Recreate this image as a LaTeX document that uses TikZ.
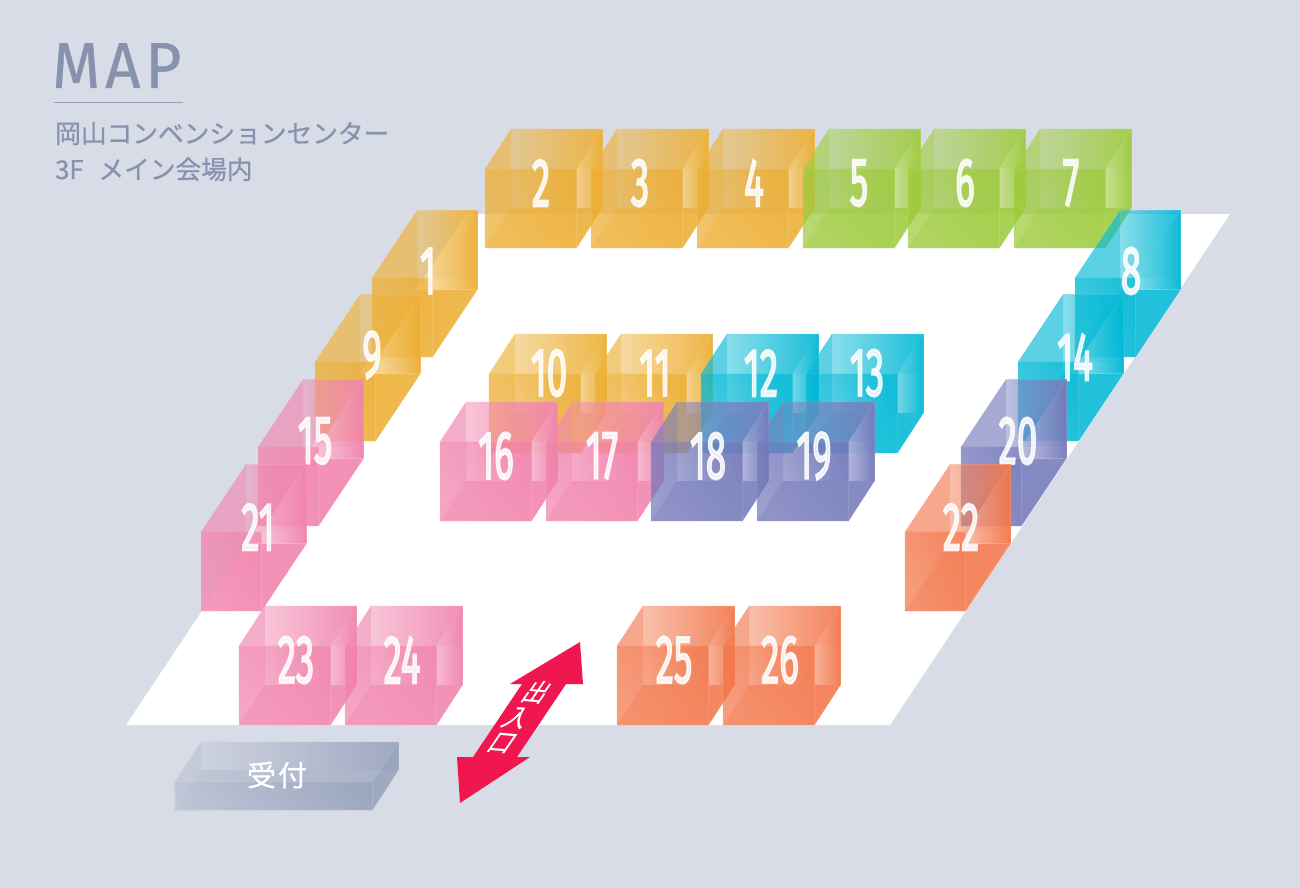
\documentclass[tikz,border=0pt]{standalone}
\usepackage{fontspec}
\setmainfont{Fira Sans}
\newfontfamily\cjk{Noto Sans CJK JP}
\newfontfamily\cjkb[FakeBold=0.6]{Noto Sans CJK JP}
\newfontfamily\titlef[LetterSpace=8,FakeBold=0.6]{Fira Sans}
\newfontfamily\numf[FakeBold=3.5]{Fira Sans}
\usetikzlibrary{fadings,calc}
\definecolor{bgc}{HTML}{D8DCE7}
\definecolor{inkc}{HTML}{8792AE}
\definecolor{orgc}{HTML}{EDAE32}
\definecolor{grnc}{HTML}{9DCB3B}
\definecolor{cync}{HTML}{00B8D6}
\definecolor{purc}{HTML}{7479BB}
\definecolor{pnkc}{HTML}{F182AC}
\definecolor{corc}{HTML}{F3764A}
\definecolor{gryc}{HTML}{97A2BC}
\definecolor{redc}{HTML}{F01650}
\tikzfading[name=fadeback,left color=transparent!85,right color=transparent!12]
\tikzfading[name=fadefront,left color=transparent!52,right color=transparent!22]
\tikzfading[name=fadeglare,left color=transparent!62,right color=transparent!100]
\tikzfading[name=fadeglaretop,left color=transparent!70,right color=transparent!100]
\tikzfading[name=fadebox,left color=transparent!70,right color=transparent!100]
\newif\ifcubeglare
\cubeglaretrue
\tikzset{
  numlabel/.style={text=white,text opacity=.85,font=\numf\fontsize{68}{68}\selectfont,xscale=.54,transform shape,inner sep=0pt},
  jplabel/.style={text=white,font=\cjkb\fontsize{24}{24}\selectfont,inner sep=0pt},
  headtext/.style={anchor=base west,inner sep=0pt,text=inkc},
}
% x, ybottom, width, dx, dy, height, colour
\newcommand\cubecore[7]{%
  \coordinate (fbl) at (#1,#2);
  \coordinate (fbr) at ($(#1,#2)+(#3,0)$);
  \coordinate (ftl) at ($(#1,#2)+(0,-#6)$);
  \coordinate (ftr) at ($(#1,#2)+(#3,-#6)$);
  \coordinate (bbl) at ($(#1,#2)+(#4,-#5)$);
  \coordinate (bbr) at ($(#1,#2)+(#3,0)+(#4,-#5)$);
  \coordinate (btl) at ($(#1,#2)+(#4,-#5)+(0,-#6)$);
  \coordinate (btr) at ($(#1,#2)+(#3,0)+(#4,-#5)+(0,-#6)$);
  \fill[#7,path fading=fadeback] (btl) -- (btr) -- (bbr) -- (bbl) -- cycle;
  \fill[#7,fill opacity=.62] (fbl) -- (fbr) -- (bbr) -- (bbl) -- cycle;
  \fill[#7,fill opacity=.45] (fbl) -- (ftl) -- (btl) -- (bbl) -- cycle;
  \fill[#7!92!white,fill opacity=.4] (ftl) -- (ftr) -- (btr) -- (btl) -- cycle;
  \fill[#7,fill opacity=.66] (fbr) -- (ftr) -- (btr) -- (bbr) -- cycle;
  \ifcubeglare
  \fill[white,path fading=fadeglare] (ftr) -- ($(ftr)+(#4,0)$) -- (bbr) -- ($(fbr)+(0,-#5)$) -- cycle;
  \fill[white,path fading=fadeglaretop] (ftr) -- (btr) -- ($(ftr)+(#4,0)$) -- cycle;
  \fi
  \fill[#7,path fading=fadefront,fading angle=35] (fbl) -- (fbr) -- (ftr) -- (ftl) -- cycle;
  \draw[#7!60!white,line width=.6pt,opacity=.3] (ftl) -- (ftr) -- (btr) -- (btl) -- cycle;
  \draw[#7!60!white,line width=.6pt,opacity=.3] (fbl) -- (ftl) (fbl) -- (fbr) (ftr) -- (fbr) -- (bbr) -- (btr);
}
\newcommand\cubeA[6]{\cubecore{#1}{#2}{91.5}{26}{40}{79}{#3}
  \node[numlabel] (n#4) at (#5,#6) {#4};}
\newcommand\cubeS[6]{\cubecore{#1}{#2}{60.5}{45}{67.5}{79}{#3}
  \node[numlabel] (n#4) at (#5,#6) {#4};}
\begin{document}
\begin{tikzpicture}[x=1pt,y=-1pt]
\useasboundingbox (0,0) rectangle (1300,888);
\fill[bgc] (0,0) rectangle (1300,888);
\fill[white] (126,725) -- (890,725) -- (1230,214) -- (466,214) -- cycle;
% heading
\node[headtext,xscale=.95,transform shape,font=\titlef\fontsize{65}{65}\selectfont] (maptitle) at (52,88) {MAP};
\coordinate (rulea) at (54,103);
\coordinate (ruleb) at (183,103);
\draw[color=inkc!85!white,line width=1pt] (rulea) -- (ruleb);
\node[headtext,font=\cjkb\fontsize{25.7}{25.7}\selectfont] (venue) at (55,143) {岡山コンベンションセンター};
\node[headtext,font=\cjkb\fontsize{25.7}{25.7}\selectfont] (hall) at (55,179) {3F\hspace{9pt} メイン会場内};
% top row
\cubeA{485}{248}{orgc}{2}{541}{183}
\cubeA{591}{248}{orgc}{3}{640}{183}
\cubeA{697}{248}{orgc}{4}{754}{183}
\cubeA{803}{248}{grnc}{5}{859}{183}
\cubeA{908}{248}{grnc}{6}{965}{183}
\cubeA{1014}{248}{grnc}{7}{1071}{183}
% left column
\cubeS{372}{357}{orgc}{1}{428}{271}
\cubeS{315}{441}{orgc}{9}{372}{355}
\cubeS{258}{526}{pnkc}{15}{315}{441}
\cubeS{201}{611}{pnkc}{21}{258}{527}
% right column
\cubeS{1075}{357}{cync}{8}{1131}{271}
\cubeS{1018}{441}{cync}{14}{1075}{357}
\cubeS{961}{526}{purc}{20}{1018}{441}
\cubeS{905}{611}{corc}{22}{961}{527}
% centre
\cubeA{489}{453}{orgc}{10}{549}{373}
\cubeA{595}{453}{orgc}{11}{655}{373}
\cubeA{701}{453}{cync}{12}{761}{373}
\cubeA{806}{453}{cync}{13}{867}{373}
\cubeA{440}{521}{pnkc}{16}{496}{456}
\cubeA{546}{521}{pnkc}{17}{602}{456}
\cubeA{651}{521}{purc}{18}{708}{456}
\cubeA{757}{521}{purc}{19}{814}{456}
% bottom
\cubeA{239}{725}{pnkc}{23}{296}{660}
\cubeA{345}{725}{pnkc}{24}{402}{660}
\cubeA{617}{725}{corc}{25}{674}{660}
\cubeA{723}{725}{corc}{26}{780}{660}
% reception
\cubeglarefalse
\cubecore{175}{810}{197.5}{26}{40}{28}{gryc}
\fill[white,path fading=fadebox] (fbl) -- (fbr) -- (ftr) -- (ftl) -- cycle;
\fill[white,path fading=fadebox] (btl) -- (btr) -- (ftr) -- (ftl) -- cycle;
\node[jplabel,font=\cjkb\fontsize{29}{29}\selectfont] (recep) at (277,775) {受\hspace{2pt}付};
% entrance arrow
\fill[redc] (580,642) -- (583,684) -- (566,684) -- (517,757) -- (530,757) -- (460,803) -- (457,757) -- (473,757) -- (522,684) -- (510,684) -- cycle;
\node[jplabel,xslant=.6,rotate=-5,transform shape] (ent1) at (537,692) {出};
\node[jplabel,xslant=.6,rotate=-5,transform shape] (ent2) at (517,718) {入};
\node[jplabel,xslant=.6,rotate=-5,transform shape] (ent3) at (502,743) {口};
\end{tikzpicture}
\end{document}
